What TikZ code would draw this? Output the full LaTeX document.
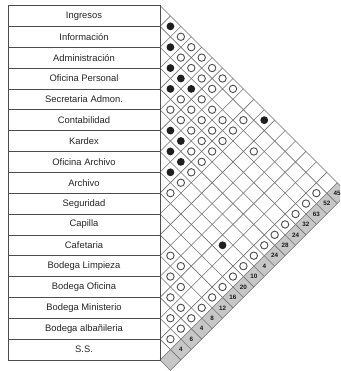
\documentclass[tikz,border=0pt]{standalone}
\usepackage{fontspec}
\setmainfont{Liberation Sans}
\begin{document}
\begin{tikzpicture}[x=1pt,y=-1pt,
  lab/.style={draw=black!70,line width=0.7pt,minimum width=152pt,minimum height=20.85pt,inner sep=0pt,font=\fontsize{9.4}{10}\selectfont,text=black!85},
  gridl/.style={draw=black!55,line width=0.6pt},
  oc/.style={circle,draw=black!70,line width=0.9pt,minimum size=7.4pt,inner sep=0pt},
  fc/.style={circle,fill=black!88,minimum size=7.8pt,inner sep=0pt},
  num/.style={font=\fontsize{6.3}{7}\bfseries\selectfont,inner sep=0pt,text=black!90}]
\def\T{5.5}\def\A{10.425}\def\X{160}
\useasboundingbox (0,0) rectangle (340,371);
\fill[white] (0,0) rectangle (340,371);
\begin{scope}
\clip (0,0) rectangle (340,371);
% shaded cells of the last column
\foreach \i in {1,...,17}{
  \fill[black!22] ({\X+(18-\i)*\A},{\T+(\i+16)*\A}) -- ++(\A,\A) -- ++(-\A,\A) -- ++(-\A,-\A) -- cycle;
}
% grid lines
\foreach \k in {1,...,18}{
  \draw[gridl] ({\X+\k*\A},{\T+\k*\A}) -- ({\X+(\k-min(\k,17))*\A},{\T+(\k+min(\k,17))*\A});
}
\foreach \k in {0,...,17}{
  \draw[gridl] (\X,{\T+2*\k*\A}) -- ({\X+(18-\k)*\A},{\T+(18+\k)*\A});
}
% filled circles
\foreach \i/\j in {1/2,2/3,3/4,4/5,6/7,7/8,8/9,3/5,3/6,6/8,7/9,1/11,9/15}{
  \node[fc] (f\i-\j) at ({\X+(\j-\i)*\A},{\T+(\i+\j-1)*\A}) {};
}
% open circles
\foreach \i/\j in {1/3,1/4,1/5,1/6,1/7,1/8,2/4,2/5,2/6,2/7,3/7,3/8,3/9,3/10,3/12,4/6,4/7,4/8,4/9,4/10,5/6,5/7,5/8,5/9,5/10,6/9,6/10,7/10,8/10,9/10,2/10,
  12/13,13/14,14/15,15/16,16/17,12/14,13/15,14/16,15/17,14/17,13/17,12/17,11/17,10/17,9/17,8/17,7/17,6/17,5/17,4/17,3/17,2/17}{
  \node[oc] (o\i-\j) at ({\X+(\j-\i)*\A},{\T+(\i+\j-1)*\A}) {};
}
% numbers
\foreach \i/\n in {1/45,2/52,3/63,4/32,5/24,6/28,7/24,8/4,9/10,10/20,11/16,12/12,13/8,14/4,15/6,16/4}{
  \node[num] (n\i) at ({\X+(18-\i)*\A},{\T+(\i+17)*\A}) {\n};
}
\end{scope}
% label boxes
\foreach \i/\t in {1/Ingresos,2/Información,3/Administración,4/Oficina Personal,5/Secretaria Admon.,6/Contabilidad,7/Kardex,8/Oficina Archivo,9/Archivo,10/Seguridad,11/Capilla,12/Cafetaria,13/Bodega Limpieza,14/Bodega Oficina,15/Bodega Ministerio,16/Bodega albañileria,17/S.S.}{
  \node[lab] (r\i) at (84,{\T+(2*\i-1)*\A}) {\t};
}
\end{tikzpicture}
\end{document}
